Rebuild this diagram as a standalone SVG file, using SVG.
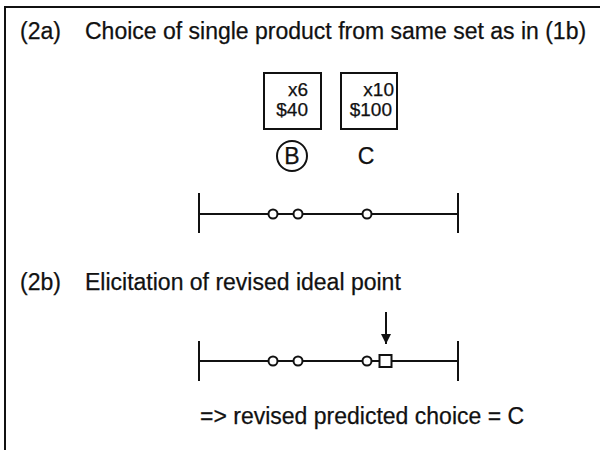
<svg xmlns="http://www.w3.org/2000/svg" width="600" height="450" viewBox="0 0 600 450">
  <style>
    .t { font-family: "Liberation Sans", Arial, Helvetica, sans-serif; fill: #111; stroke: #111; stroke-width: 0.25; }
    .head { font-size: 23px; }
    .small { font-size: 19px; }
    .ln { stroke: #111; stroke-width: 2; fill: none; }
    .pt { stroke: #111; stroke-width: 2; fill: #fff; }
  </style>
  <defs>
    <marker id="arrow" viewBox="0 0 10 10" refX="10" refY="5" markerWidth="10" markerHeight="11" markerUnits="userSpaceOnUse" orient="auto">
      <path d="M0,0 L10,5 L0,10 Z" fill="#111"/>
    </marker>
  </defs>

  <!-- panel frame (top and left edges) -->
  <path class="ln" d="M5,450 V7 H600"/>

  <!-- section headings -->
  <g id="heading-2a">
    <text class="t head" x="20" y="39">(2a)</text>
    <text class="t head" x="85" y="39">Choice of single product from same set as in (1b)</text>
  </g>
  <g id="heading-2b">
    <text class="t head" x="20" y="290">(2b)</text>
    <text class="t head" x="85" y="290">Elicitation of revised ideal point</text>
  </g>

  <!-- product B -->
  <g id="product-B">
    <rect class="ln" x="264" y="73" width="57" height="56"/>
    <text class="t small" x="308" y="96" text-anchor="end">x6</text>
    <text class="t small" x="308" y="116" text-anchor="end">$40</text>
    <circle class="ln" cx="292" cy="156" r="15"/>
    <text class="t head" x="292" y="164" text-anchor="middle">B</text>
  </g>

  <!-- product C -->
  <g id="product-C">
    <rect class="ln" x="341" y="73" width="56" height="56"/>
    <text class="t small" x="394" y="96" text-anchor="end">x10</text>
    <text class="t small" x="392" y="116" text-anchor="end">$100</text>
    <text class="t head" x="366" y="164" text-anchor="middle">C</text>
  </g>

  <!-- attribute scale, choice stage -->
  <g id="scale-2a">
    <path class="ln" d="M199,193 V233 M458,193 V233 M199,214 H458"/>
    <circle class="pt" cx="273" cy="214" r="4.5"/>
    <circle class="pt" cx="298" cy="214" r="4.5"/>
    <circle class="pt" cx="367" cy="214" r="4.5"/>
  </g>

  <!-- attribute scale with revised ideal point -->
  <g id="scale-2b">
    <path class="ln" d="M199,341 V381 M458,341 V381 M199,361 H458"/>
    <circle class="pt" cx="273" cy="361" r="4.5"/>
    <circle class="pt" cx="298" cy="361" r="4.5"/>
    <circle class="pt" cx="367" cy="361" r="4.5"/>
    <rect class="pt" x="379.5" y="355" width="12" height="12"/>
  </g>

  <!-- pointer to revised ideal point -->
  <g id="connectors">
    <line class="ln" x1="386" y1="312" x2="386" y2="344" marker-end="url(#arrow)"/>
  </g>

  <g id="result">
    <text class="t head" x="200" y="424">=&gt; revised predicted choice = C</text>
  </g>
</svg>
